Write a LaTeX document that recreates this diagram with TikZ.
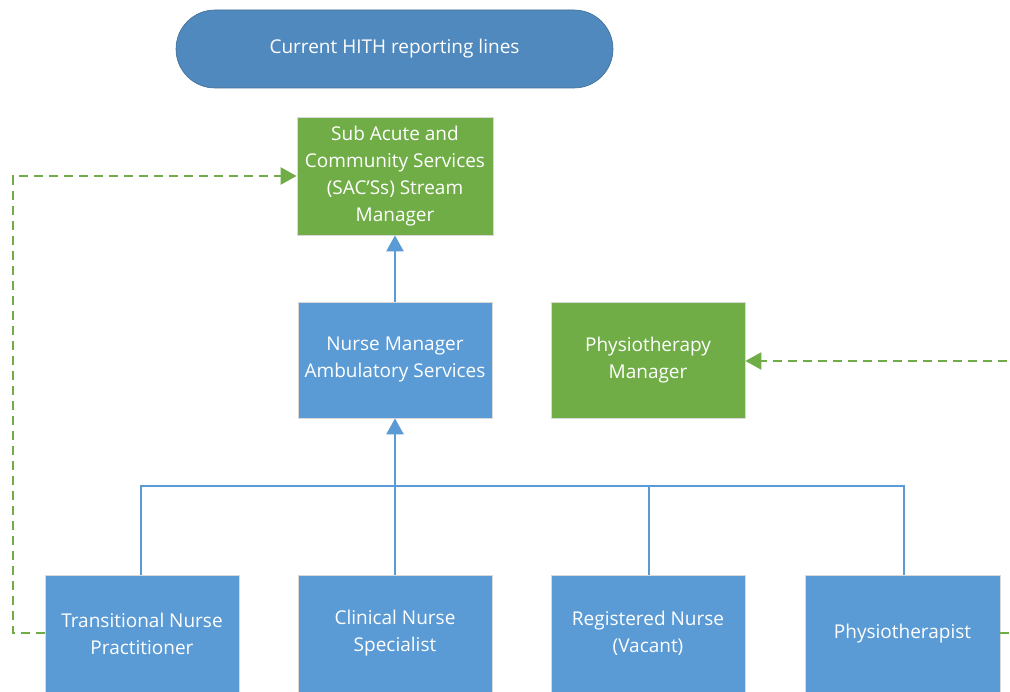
\documentclass[tikz,border=0pt]{standalone}
\usepackage{fontspec}
\setmainfont{Open Sans}
\usetikzlibrary{arrows.meta,positioning}
\definecolor{titleblue}{RGB}{80,137,190}
\definecolor{boxblue}{RGB}{91,155,213}
\definecolor{boxgreen}{RGB}{112,173,71}
\begin{document}
\begin{tikzpicture}[x=1pt,y=-1pt,
  lbl/.style={text=white,font=\fontsize{19}{27}\selectfont,align=center,inner sep=0pt},
  bluebox/.style={lbl,rectangle,fill=boxblue,draw=white!85!black,line width=0.8pt,minimum width=194pt,minimum height=117pt},
  greenbox/.style={lbl,rectangle,fill=boxgreen,draw=white!85!black,line width=0.8pt,minimum width=196pt,minimum height=118pt},
  bluearrow/.style={draw=boxblue,line width=2.6pt,-{Triangle[length=16pt,width=17pt]}},
  blueline/.style={draw=boxblue,line width=2.6pt},
  greendash/.style={draw=boxgreen,line width=2.6pt,dash pattern=on 9pt off 6pt,-{Triangle[length=16pt,width=17pt]}}]
\useasboundingbox (0,0) rectangle (1010,692);
\clip (0,0) rectangle (1010,692);
\fill[white] (0,0) rectangle (1010,692);
% title
\node[lbl,rectangle,rounded corners=39pt,fill=titleblue,draw=titleblue!80!black,line width=0.6pt,minimum width=437pt,minimum height=78pt] (title) at (394.5,49) {Current HITH reporting lines};
% managers
\node[greenbox] (sac) at (395,176) {Sub Acute and\\Community Services\\(SAC'Ss) Stream\\Manager};
\node[bluebox,minimum height=116pt] (nm) at (395,360) {Nurse Manager\\Ambulatory Services};
\node[greenbox,minimum width=194pt,minimum height=116pt] (pm) at (648,360) {Physiotherapy\\Manager};
% staff
\node[bluebox] (tnp) at (142,633.5) {Transitional Nurse\\Practitioner};
\node[bluebox] (cns) at (395,633.5) {Clinical Nurse\\Specialist};
\node[bluebox] (rn) at (648,633.5) {Registered Nurse\\(Vacant)};
\node[bluebox,minimum width=195pt] (pt) at (902.5,633.5) {Physiotherapist};
% connectors
\coordinate (bus) at (395,486);
\draw[bluearrow] (nm.north) -- (sac.south);
\draw[blueline] (tnp.north -| 141,0) |- (bus);
\draw[blueline] (pt.north -| 904,0) |- (bus);
\draw[blueline] (cns.north) -- (bus);
\draw[blueline] (rn.north -| 649,0) -- (649,486);
\draw[bluearrow] (bus) -- (nm.south);
% dashed reporting
\draw[greendash] (tnp.west |- 0,633) -| (13,176) -- (sac.west |- 0,176);
\draw[greendash] (pt.east |- 0,633) -| (1025,361) -- (pm.east |- 0,361);
\end{tikzpicture}
\end{document}
